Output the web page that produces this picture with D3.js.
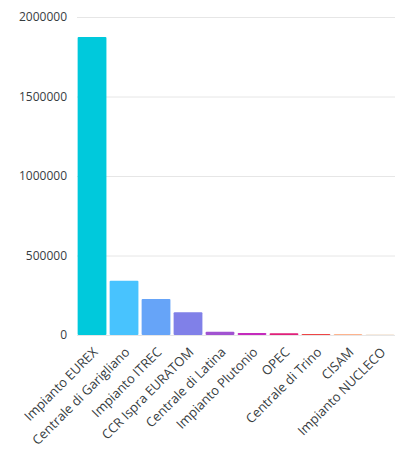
<!DOCTYPE html>
<html>
<head>
<meta charset="utf-8">
<script src="https://cdn.jsdelivr.net/npm/d3@7"></script>
<style>
    body { margin: 0; background: #fff; }
    text { font-family: "Open Sans", sans-serif; }
</style>
</head>
<body>
<svg id="chart"></svg>
<script>
const categories = ['Impianto EUREX', 'Centrale di Garigliano', 'Impianto ITREC', 'CCR Ispra EURATOM',
    'Centrale di Latina', 'Impianto Plutonio', 'OPEC', 'Centrale di Trino', 'CISAM', 'Impianto NUCLECO'];
const values = [1874000, 341000, 226000, 143000, 21000, 13000, 11000, 7000, 6000, 4000];
const colors = ['#00c9dc', '#48c3fe', '#66a4f8', '#8080e8', '#a153d1', '#c42bbd', '#e0207a', '#ee4545', '#feb38e', '#f4e4d4'];
const yTicks = [0, 500000, 1000000, 1500000, 2000000];

function drawChart() {
    // Graph constants
    const width = 408
    const height = 458
    const margin = { top: 17, right: 13, bottom: 123, left: 77 };

    const xScale = d3.scaleBand()
        .domain(categories)
        .range([margin.left, width - margin.right])
        .paddingInner(0.1)
        .paddingOuter(0.02);
    const yScale = d3.scaleLinear()
        .domain([0, 2000000])
        .range([height - margin.bottom, margin.top]);

    const svg = d3.select("#chart")
        .attr('width', width)
        .attr('height', height);

    // Gridlines
    svg.append('g')
        .selectAll('line')
        .data(yTicks)
        .join('line')
        .attr('x1', margin.left)
        .attr('x2', width - margin.right)
        .attr('y1', d => yScale(d) + 0.5)
        .attr('y2', d => yScale(d) + 0.5)
        .attr('stroke', '#e6e6e6');

    // Y axis
    const yAxis = d3.axisLeft(yScale)
        .tickValues(yTicks)
        .tickFormat(d3.format('d'))
        .tickSize(0)
        .tickPadding(10);
    const yG = svg.append('g')
        .attr('transform', `translate(${margin.left},0)`)
        .call(yAxis);
    yG.select('.domain').remove();
    yG.selectAll('text')
        .style('font-size', '12px')
        .style('fill', '#373d3f');

    // Bars
    svg.append('g')
        .selectAll('rect')
        .data(values)
        .join('rect')
        .attr('x', (d, i) => xScale(categories[i]))
        .attr('y', d => yScale(d))
        .attr('width', xScale.bandwidth())
        .attr('height', d => yScale(0) - yScale(d))
        .attr('rx', 1)
        .style('fill', (d, i) => colors[i]);

    // X axis labels, rotated
    const xAxis = d3.axisBottom(xScale)
        .tickSize(0)
        .tickSizeOuter(0);
    const xG = svg.append('g')
        .attr('transform', `translate(0,${height - margin.bottom})`)
        .call(xAxis);
    xG.select('.domain').remove();
    xG.selectAll('text')
        .attr('x', 0)
        .attr('y', 0)
        .attr('dy', 0)
        .attr('transform', 'translate(6.5,18) rotate(-45)')
        .style('text-anchor', 'end')
        .style('font-size', '13px')
        .style('fill', '#373d3f');
}

drawChart();
</script>
</body>
</html>
